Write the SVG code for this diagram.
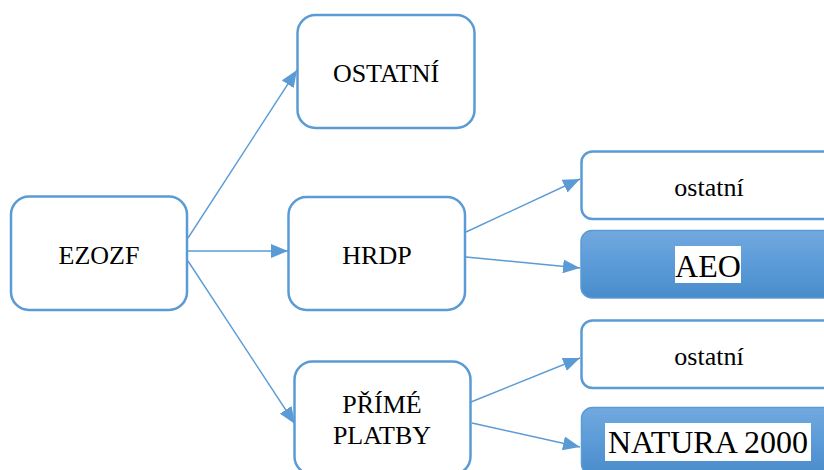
<svg xmlns="http://www.w3.org/2000/svg" width="824" height="470" viewBox="0 0 824 470">
  <defs>
    <linearGradient id="blueGrad" x1="0" y1="0" x2="0" y2="1">
      <stop offset="0" stop-color="#72A9DE"/>
      <stop offset="0.5" stop-color="#5B9BD8"/>
      <stop offset="1" stop-color="#4A8BCB"/>
    </linearGradient>
    <marker id="arrow" markerUnits="userSpaceOnUse" markerWidth="17" markerHeight="14" refX="17" refY="7" orient="auto">
      <path d="M0,0 L17,7 L0,14 z" fill="#5B9BD5"/>
    </marker>
  </defs>
  <style>
    .box { fill: #FFFFFF; stroke: #5B9BD5; stroke-width: 2.5; }
    .fbox { fill: url(#blueGrad); stroke: #5B9BD5; stroke-width: 1.5; }
    .lbl { font-family: "Liberation Serif", "Times New Roman", serif; font-size: 26px; fill: #000000; text-anchor: middle; }
    .big { font-family: "Liberation Serif", "Times New Roman", serif; font-size: 32px; fill: #000000; text-anchor: middle; }
    .conn { stroke: #5B9BD5; stroke-width: 1.4; fill: none; marker-end: url(#arrow); }
  </style>
  <rect width="824" height="470" fill="#FFFFFF"/>

  <g id="connectors">
    <line class="conn" x1="188" y1="238" x2="297" y2="70"/>
    <line class="conn" x1="188" y1="251" x2="288" y2="251"/>
    <line class="conn" x1="188" y1="261" x2="295" y2="424"/>
    <line class="conn" x1="466" y1="232" x2="580" y2="179"/>
    <line class="conn" x1="466" y1="257" x2="580" y2="268"/>
    <line class="conn" x1="471" y1="402" x2="580" y2="358"/>
    <line class="conn" x1="472" y1="423" x2="580" y2="447"/>
  </g>

  <g id="ezozf">
    <rect class="box" x="11" y="196.5" width="176" height="113.5" rx="18"/>
    <text class="lbl" x="99" y="264">EZOZF</text>
  </g>
  <g id="ostatni-top">
    <rect class="box" x="297.5" y="15" width="177" height="113" rx="18"/>
    <text class="lbl" x="386" y="82">OSTATNÍ</text>
  </g>
  <g id="hrdp">
    <rect class="box" x="288.5" y="197" width="176.5" height="113" rx="18"/>
    <text class="lbl" x="377" y="264">HRDP</text>
  </g>
  <g id="prime-platby">
    <rect class="box" x="294.5" y="361.5" width="176" height="113" rx="18"/>
    <text class="lbl" x="382" y="413">PŘÍMÉ</text>
    <text class="lbl" x="382" y="444">PLATBY</text>
  </g>
  <g id="hrdp-ostatni">
    <rect class="box" x="581.5" y="151.5" width="270" height="67.5" rx="11"/>
    <text class="lbl" x="709" y="196">ostatní</text>
  </g>
  <g id="aeo">
    <rect class="fbox" x="581" y="230.5" width="270" height="67.5" rx="11"/>
    <rect x="675" y="246" width="66" height="37" fill="#FFFFFF"/>
    <text class="big" x="708" y="277">AEO</text>
  </g>
  <g id="pp-ostatni">
    <rect class="box" x="581.5" y="320.5" width="270" height="67.5" rx="11"/>
    <text class="lbl" x="709" y="365">ostatní</text>
  </g>
  <g id="natura">
    <rect class="fbox" x="581.5" y="407.5" width="270" height="67.5" rx="11"/>
    <rect x="605" y="423" width="206" height="38" fill="#FFFFFF"/>
    <text class="big" x="708" y="453">NATURA 2000</text>
  </g>
</svg>
